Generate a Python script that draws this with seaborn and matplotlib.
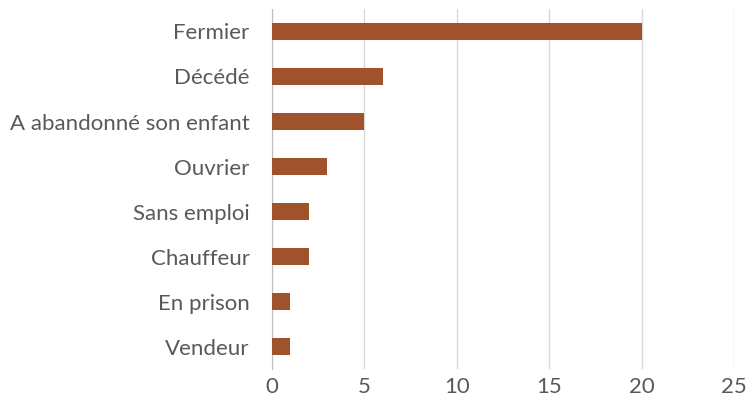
import matplotlib
matplotlib.use("Agg")
import matplotlib.pyplot as plt
import seaborn as sns
import pandas as pd

# Data
categories = ["Fermier", "Décédé", "A abandonné son enfant", "Ouvrier",
              "Sans emploi", "Chauffeur", "En prison", "Vendeur"]
counts = [20, 6, 5, 3, 2, 2, 1, 1]

df = pd.DataFrame({"Categorie": categories, "Nombre": counts})

sns.set_style("white")
plt.rcParams["font.family"] = ["Lato", "DejaVu Sans"]

fig = plt.figure(figsize=(7.49, 4.07), dpi=100)
ax = fig.add_axes([0.363, 0.093, 0.617, 0.885])

sns.barplot(data=df, x="Nombre", y="Categorie", orient="h",
            color="#A0522D", saturation=1, width=0.37, ax=ax,
            linewidth=0, zorder=3)

ax.set_xlim(0, 25)
ax.set_xticks([0, 5, 10, 15, 20, 25])
ax.set_ylim(7.5, -0.5)
ax.grid(axis="x", color="#d9d9d9", linewidth=1, zorder=0)
ax.set_axisbelow(True)
ax.set_xlabel("")
ax.set_ylabel("")
for s in ["top", "right", "bottom"]:
    ax.spines[s].set_visible(False)
ax.spines["left"].set_color("#bfbfbf")
ax.tick_params(axis="both", length=0, labelsize=16, colors="#595959")
ax.tick_params(axis="y", pad=16)
ax.tick_params(axis="x", pad=6)

fig.savefig("out.png", dpi=100)
